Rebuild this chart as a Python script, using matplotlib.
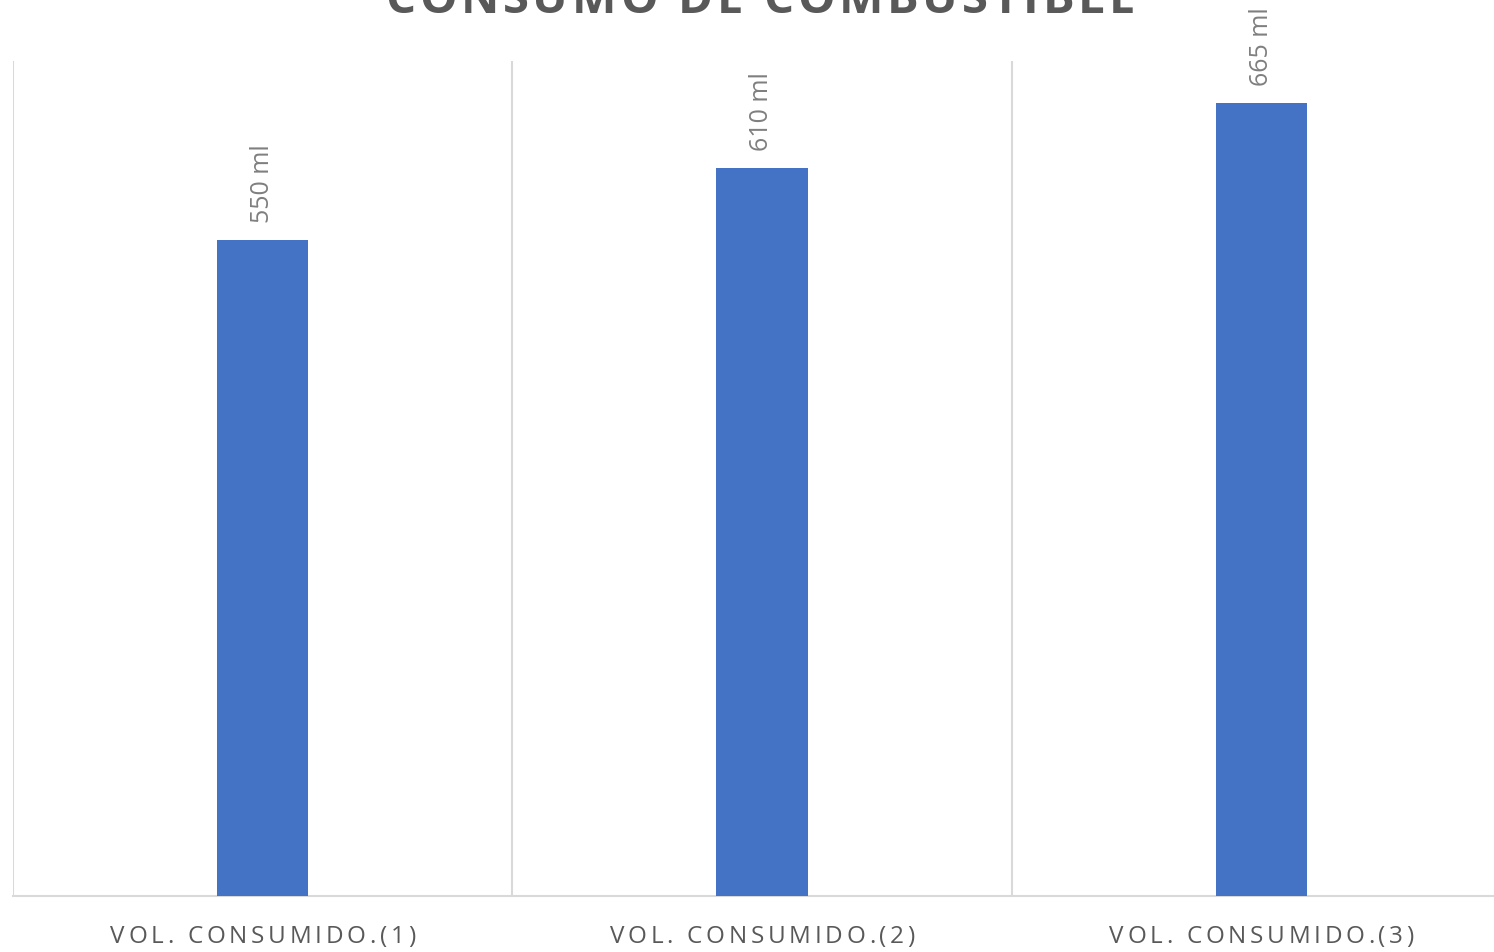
import matplotlib
matplotlib.use("Agg")
import matplotlib.pyplot as plt
from matplotlib.font_manager import FontProperties, findfont, get_font
from matplotlib.transforms import IdentityTransform

categories = ["VOL. CONSUMIDO.(1)", "VOL. CONSUMIDO.(2)", "VOL. CONSUMIDO.(3)"]
volumes = [550, 610, 665]
value_labels = ["550 ml", "610 ml", "665 ml"]
title = "CONSUMO DE COMBUSTIBLE"

W, H = 1494, 953
DPI = 100
fig = plt.figure(figsize=(W / DPI, H / DPI), dpi=DPI)
fig.patch.set_facecolor("white")


def advances(s, family, size, weight="normal"):
    """Horizontal advance of each character, in pixels."""
    fp = FontProperties(family=family, size=size, weight=weight)
    font = get_font(findfont(fp))
    font.set_size(size, DPI)
    out = []
    for ch in s:
        g = font.load_char(ord(ch))
        out.append(g.linearHoriAdvance / 65536)
    return out


def spaced_text(cx, y, s, width, family, size, weight="normal", color="k"):
    """Draw s centred at pixel x=cx (baseline at pixel y from top), tracked to span `width` px."""
    adv = advances(s, family, size, weight)
    gap = (width - sum(adv)) / (len(s) - 1)
    x = cx - width / 2
    for ch, a in zip(s, adv):
        fig.text(x, H - y, ch, transform=IdentityTransform(), ha="left",
                 va="baseline", family=family, fontsize=size,
                 fontweight=weight, color=color)
        x += a + gap


# plot area: category slots are 500 px wide, the last one runs past the right edge
ax_left, ax_bottom, ax_w, ax_top = 13, 897, 1498, 62
ax = fig.add_axes([ax_left / W, (H - ax_bottom) / H, ax_w / W, (ax_bottom - ax_top) / H])
ax.set_xlim(-0.5, len(categories) - 0.5)
ax.set_ylim(0, 700)

x = list(range(len(categories)))
ax.bar(x, volumes, width=0.183, color="#4472C4", zorder=3)

# vertical separators between categories
for b in [-0.5 + i for i in range(len(categories) + 1)]:
    ax.axvline(b, color="#d9d9d9", lw=1.5, zorder=1)

for s in ["top", "right", "left"]:
    ax.spines[s].set_visible(False)
ax.spines["bottom"].set_color("#d9d9d9")
ax.spines["bottom"].set_linewidth(1.5)
ax.set_yticks([])
ax.set_xticks(x)
ax.set_xticklabels([])
ax.tick_params(axis="x", length=0)

# category labels with wide letter tracking
fig.canvas.draw()
for xi, c in zip(x, categories):
    px = ax.transData.transform((xi, 0))[0]
    spaced_text(px, 943, c, 305, "Open Sans", 17.5, color="#595959")

for xi, v, t in zip(x, volumes, value_labels):
    ax.annotate(t, (xi, v), xytext=(0, 13), textcoords="offset points",
                rotation=90, ha="center", va="bottom",
                fontsize=18, color="#7f7f7f", family="Open Sans")

spaced_text(760, 13, title, 750, "Open Sans", 34, weight="bold", color="#595959")

fig.savefig("out.png", dpi=DPI, facecolor="white")
